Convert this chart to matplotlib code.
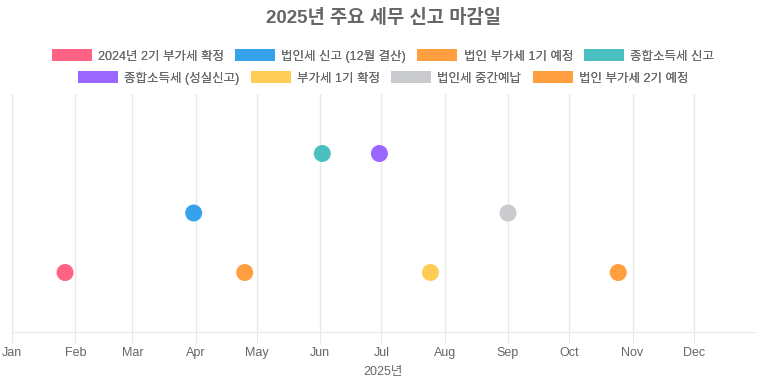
import numpy as np
import pandas as pd
import matplotlib
matplotlib.use('Agg')
import matplotlib.pyplot as plt
import matplotlib.dates as mdates
from matplotlib.patches import Patch

plt.rcParams['font.family'] = ['Liberation Sans', 'Noto Sans CJK KR']

# deadlines (label, date, row level)
labels = ['2024년 2기 부가세 확정', '법인세 신고 (12월 결산)', '법인 부가세 1기 예정', '종합소득세 신고',
          '종합소득세 (성실신고)', '부가세 1기 확정', '법인세 중간예납', '법인 부가세 2기 예정']
dates = ['2025-01-27', '2025-03-31', '2025-04-25', '2025-06-02',
         '2025-06-30', '2025-07-25', '2025-09-01', '2025-10-25']
levels = [1, 2, 1, 3, 3, 1, 2, 1]
colors = ['#FF6384', '#36A2EB', '#FF9F40', '#4BC0C0',
          '#9966FF', '#FFCD56', '#C9CBCF', '#FF9F40']

fig = plt.figure(figsize=(7.66, 3.83), dpi=100)
ax = fig.add_axes([12/766, (383-332)/383, (755-12)/766, (332-94)/383])

xs = pd.to_datetime(dates)
for lab, x, y, c in zip(labels, xs, levels, colors):
    ax.scatter([x], [y], s=150, color=c, edgecolors='none', zorder=3)

ax.set_ylim(0, 4)
ax.set_xlim(pd.Timestamp('2025-01-01'), pd.Timestamp('2025-12-31'))
ax.xaxis.set_major_locator(mdates.MonthLocator())
ax.xaxis.set_major_formatter(mdates.DateFormatter('%b'))
ax.grid(axis='x', color='#e8e8e8', lw=1)
ax.set_yticks([])
for s in ['left', 'right', 'top']:
    ax.spines[s].set_visible(False)
ax.spines['bottom'].set_color('#e8e8e8')
ax.tick_params(axis='x', length=8, color='#e8e8e8', labelcolor='#666666', labelsize=9, pad=3)
ax.set_xlabel('2025년', color='#666666', fontsize=9, labelpad=5)

fig.text(0.5, 1 - 18/383, '2025년 주요 세무 신고 마감일', ha='center', va='center',
         fontsize=13.5, fontweight='bold', color='#666666')

handles = [Patch(facecolor=c, edgecolor='none') for c in colors]
for row, ypos in [(0, 1 - 56/383), (1, 1 - 78/383)]:
    h = handles[row*4:row*4+4]
    l = labels[row*4:row*4+4]
    leg = fig.legend(h, l, loc='center', bbox_to_anchor=(0.5, ypos), ncol=4, frameon=False,
                     fontsize=9, handlelength=3.2, handleheight=1.1, handletextpad=0.5,
                     columnspacing=0.9, borderpad=0, borderaxespad=0)
    for t in leg.get_texts():
        t.set_color('#666666')
    fig.add_artist(leg)

fig.savefig('out.png', dpi=100)
